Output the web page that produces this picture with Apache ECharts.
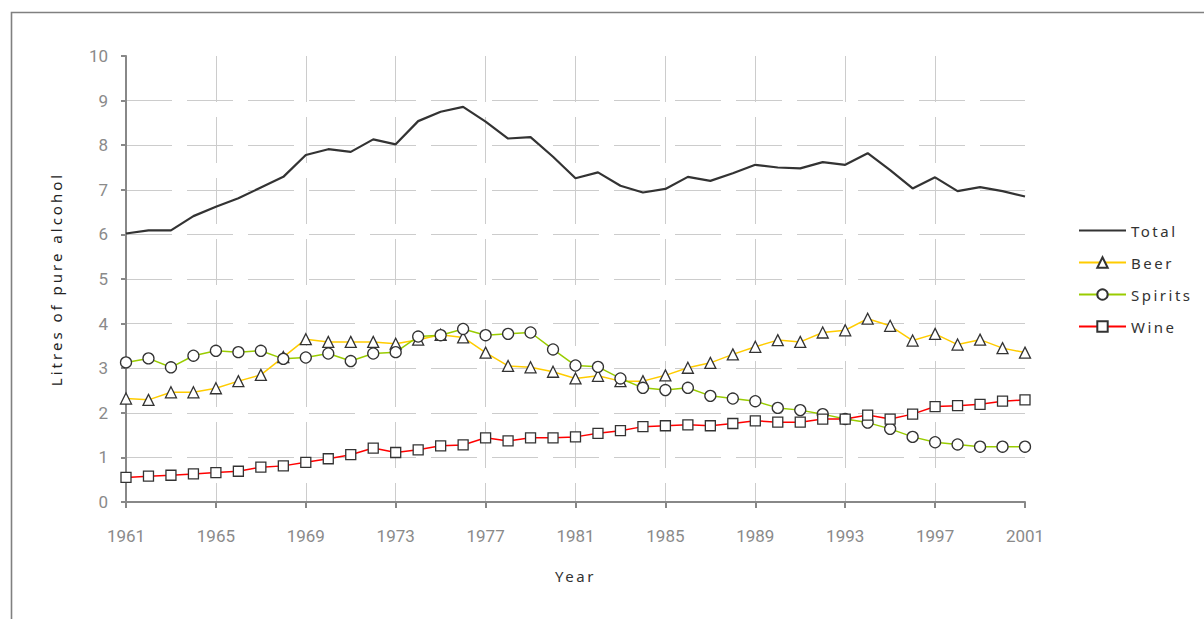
<!DOCTYPE html>
<html>
<head>
<meta charset="utf-8">
<script src="https://cdn.jsdelivr.net/npm/echarts@6/dist/echarts.min.js"></script>
<style>
html,body{margin:0;padding:0;background:#fff;}
#chart{width:1204px;height:619px;}
</style>
</head>
<body>
<div id="chart"></div>
<script>
const years = ['1961','1962','1963','1964','1965','1966','1967','1968','1969','1970',
  '1971','1972','1973','1974','1975','1976','1977','1978','1979','1980',
  '1981','1982','1983','1984','1985','1986','1987','1988','1989','1990',
  '1991','1992','1993','1994','1995','1996','1997','1998','1999','2000','2001'];

const total = [6.02,6.09,6.09,6.41,6.62,6.81,7.05,7.29,7.78,7.91,
  7.85,8.13,8.02,8.54,8.75,8.86,8.53,8.15,8.18,7.74,
  7.26,7.39,7.09,6.94,7.02,7.29,7.20,7.37,7.56,7.50,
  7.48,7.62,7.56,7.82,7.44,7.03,7.28,6.97,7.06,6.97,6.85];

const beer = [2.32,2.29,2.46,2.46,2.55,2.71,2.85,3.25,3.65,3.59,
  3.59,3.59,3.55,3.64,3.75,3.69,3.35,3.05,3.02,2.92,
  2.77,2.83,2.71,2.71,2.84,3.01,3.12,3.31,3.48,3.63,
  3.59,3.80,3.85,4.11,3.95,3.62,3.77,3.53,3.64,3.45,3.35];

const spirits = [3.13,3.22,3.02,3.28,3.39,3.36,3.39,3.21,3.24,3.33,
  3.16,3.33,3.36,3.71,3.74,3.88,3.74,3.77,3.80,3.42,
  3.06,3.03,2.77,2.56,2.51,2.56,2.38,2.32,2.26,2.11,
  2.06,1.97,1.86,1.78,1.64,1.46,1.34,1.29,1.24,1.24,1.24];

const wine = [0.55,0.58,0.60,0.63,0.66,0.69,0.78,0.81,0.89,0.97,
  1.06,1.21,1.11,1.17,1.26,1.28,1.44,1.37,1.44,1.44,
  1.46,1.54,1.60,1.69,1.71,1.73,1.71,1.76,1.82,1.79,
  1.79,1.86,1.86,1.95,1.86,1.97,2.14,2.16,2.19,2.26,2.29];

const seriesNames = ['Total','Beer','Spirits','Wine'];
const xAxisName = 'Year';
const yAxisName = 'Litres of pure alcohol';

const chart = echarts.init(document.getElementById('chart'), null, {renderer: 'svg'});

const markerStyle = {color: '#ffffff', borderColor: '#333333', borderWidth: 1.3};
const gridDash = [46, 15];

const option = {
  animation: false,
  backgroundColor: '#ffffff',
  graphic: [{
    type: 'rect',
    left: 9, top: 10,
    shape: {width: 1300, height: 700},
    style: {fill: 'none', stroke: '#808080', lineWidth: 1.6},
    silent: true
  }],
  grid: {left: 126, right: 179, top: 56, bottom: 117},
  legend: {
    orient: 'vertical',
    left: 1078,
    top: 223,
    padding: 0,
    itemWidth: 47,
    itemHeight: 13,
    itemGap: 17,
    textStyle: {fontFamily: 'Noto Sans', fontSize: 15, color: '#333333'},
    data: [
      {name: 'Total', itemStyle: {opacity: 0}},
      {name: 'Beer'},
      {name: 'Spirits'},
      {name: 'Wine'}
    ]
  },
  xAxis: {
    type: 'category',
    data: years,
    boundaryGap: false,
    name: xAxisName,
    nameLocation: 'middle',
    nameGap: 66,
    nameTextStyle: {fontFamily: 'Noto Sans', fontSize: 15, color: '#333333'},
    axisLine: {show: true, lineStyle: {color: '#888888', width: 2}},
    axisTick: {show: true, interval: 3, length: 6, lineStyle: {color: '#888888', width: 2}},
    axisLabel: {interval: 3, margin: 25, fontFamily: 'Roboto', fontSize: 17, color: '#8a8a8a'},
    splitLine: {show: true, interval: 3, showMinLine: false, showMaxLine: false,
      lineStyle: {color: '#cccccc', width: 1, type: gridDash}}
  },
  yAxis: {
    type: 'value',
    min: 0, max: 10, interval: 1,
    name: yAxisName,
    nameLocation: 'middle',
    nameGap: 63,
    nameTextStyle: {fontFamily: 'Noto Sans', fontSize: 15, color: '#222222'},
    axisLine: {show: true, lineStyle: {color: '#888888', width: 2}},
    axisTick: {show: true, length: 5, lineStyle: {color: '#888888', width: 2}},
    axisLabel: {margin: 18, fontFamily: 'Roboto', fontSize: 17, color: '#8a8a8a'},
    splitLine: {show: true, showMinLine: false, showMaxLine: false,
      lineStyle: {color: '#cccccc', width: 1, type: gridDash}}
  },
  series: [
    {name: 'Total', type: 'line', data: total, symbol: 'none',
      lineStyle: {color: '#333333', width: 2.2}, itemStyle: {color: '#333333'}},
    {name: 'Beer', type: 'line', data: beer, symbol: 'triangle', symbolSize: 11, showAllSymbol: true,
      lineStyle: {color: '#ffcc00', width: 1.5}, itemStyle: markerStyle},
    {name: 'Spirits', type: 'line', data: spirits, symbol: 'circle', symbolSize: 11, showAllSymbol: true,
      lineStyle: {color: '#99cc00', width: 1.5}, itemStyle: markerStyle},
    {name: 'Wine', type: 'line', data: wine, symbol: 'rect', symbolSize: 10, showAllSymbol: true,
      lineStyle: {color: '#ff0000', width: 1.5}, itemStyle: markerStyle}
  ]
};

chart.setOption(option);

function spaceLetters() {
  document.querySelectorAll('#chart text').forEach(function (t) {
    const s = t.textContent.trim();
    if (s === yAxisName) {
      t.style.letterSpacing = '3px';
    } else if (s === xAxisName || seriesNames.indexOf(s) >= 0) {
      t.style.letterSpacing = '2.5px';
    }
  });
}
chart.on('finished', spaceLetters);
spaceLetters();
</script>
</body>
</html>
